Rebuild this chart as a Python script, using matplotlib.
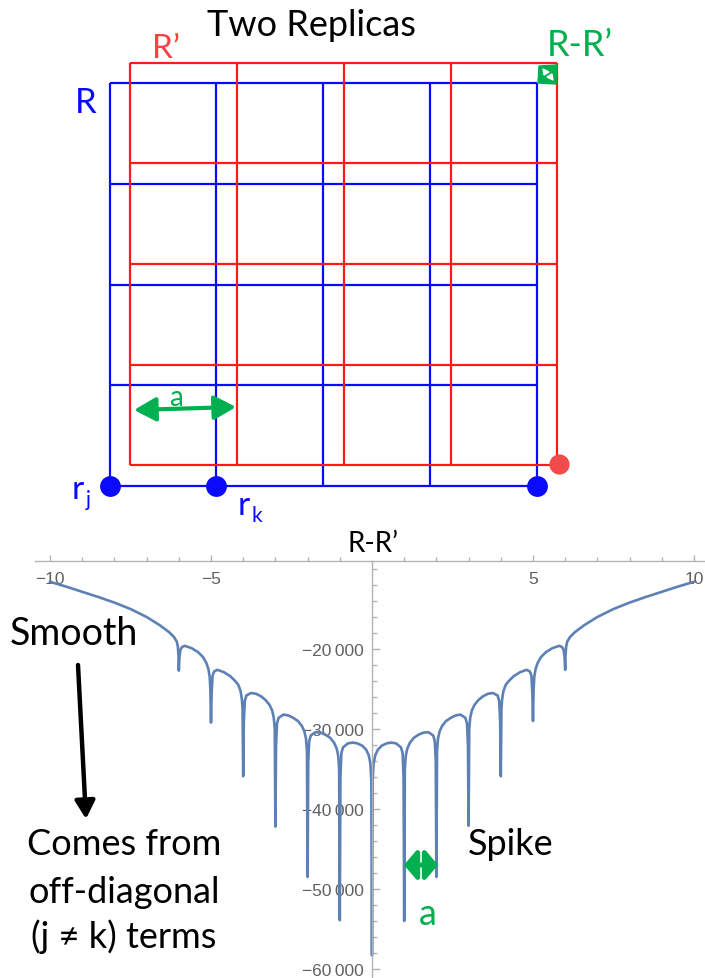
import matplotlib

matplotlib.use('Agg')

import matplotlib.pyplot as plt
from matplotlib.ticker import FixedLocator, MultipleLocator, FuncFormatter

# curve: x = R-R', y = energy
curve_x = [-10.0, -9.5, -9.0, -8.5, -8.0, -7.5, -7.0, -6.6, -6.3, -6.15, -6.06, -6.03, -6.01, -6.0,
           -5.98, -5.95, -5.9, -5.82, -5.6, -5.4, -5.25, -5.15, -5.08, -5.04, -5.02, -5.0,
           -4.98, -4.95, -4.9, -4.8, -4.6, -4.4, -4.25, -4.15, -4.08, -4.04, -4.02, -4.0,
           -3.98, -3.95, -3.9, -3.75, -3.6, -3.45, -3.3, -3.18, -3.1, -3.05, -3.02, -3.0,
           -2.98, -2.95, -2.9, -2.75, -2.6, -2.45, -2.3, -2.18, -2.1, -2.05, -2.02, -2.0,
           -1.98, -1.95, -1.9, -1.75, -1.6, -1.45, -1.3, -1.18, -1.1, -1.05, -1.02, -1.0,
           -0.98, -0.95, -0.9, -0.75, -0.6, -0.45, -0.3, -0.18, -0.1, -0.05, -0.02, 0.0,
           0.02, 0.05, 0.1, 0.18, 0.3, 0.45, 0.6, 0.75, 0.9, 0.95, 0.98, 1.0,
           1.02, 1.05, 1.1, 1.18, 1.3, 1.45, 1.6, 1.75, 1.9, 1.95, 1.98, 2.0,
           2.02, 2.05, 2.1, 2.18, 2.3, 2.45, 2.6, 2.75, 2.9, 2.95, 2.98, 3.0,
           3.02, 3.05, 3.1, 3.18, 3.3, 3.45, 3.6, 3.75, 3.9, 3.95, 3.98, 4.0,
           4.02, 4.04, 4.08, 4.15, 4.25, 4.4, 4.6, 4.8, 4.9, 4.95, 4.98, 5.0,
           5.02, 5.04, 5.08, 5.15, 5.25, 5.4, 5.6, 5.82, 5.9, 5.95, 5.98, 6.0,
           6.01, 6.03, 6.06, 6.15, 6.3, 6.6, 7.0, 7.5, 8.0, 8.5, 9.0, 9.5, 10.0]
curve_y = [-11600, -12200, -12850, -13500, -14200, -15000, -16000, -17000, -17900, -18500, -19100, -19700, -20800, -22700,
           -21000, -20100, -19750, -19600, -19900, -20400, -21000, -21700, -22500, -23500, -25000, -29200,
           -25500, -23300, -22800, -22600, -22900, -23400, -24000, -24500, -25300, -26300, -27500, -35900,
           -29000, -26500, -25800, -25500, -25600, -25900, -26400, -27000, -27700, -28600, -30000, -42200,
           -32000, -29300, -28600, -28200, -28300, -28600, -29000, -29600, -30300, -31200, -32800, -48500,
           -34000, -31500, -30800, -30400, -30450, -30700, -31100, -31700, -32400, -33300, -35000, -53900,
           -36000, -33000, -32300, -31800, -31700, -31800, -32100, -32600, -33300, -34300, -36500, -58300,
           -36500, -34300, -33300, -32600, -32100, -31800, -31700, -31800, -32300, -33000, -36000, -54000,
           -35000, -33300, -32400, -31700, -31100, -30700, -30450, -30400, -30800, -31500, -34000, -48500,
           -32800, -31200, -30300, -29600, -29000, -28600, -28300, -28200, -28600, -29300, -32000, -42100,
           -30000, -28600, -27700, -27000, -26400, -25900, -25600, -25500, -25800, -26500, -29000, -35900,
           -27500, -26300, -25300, -24500, -24000, -23400, -22900, -22600, -22800, -23300, -25500, -29000,
           -25000, -23500, -22500, -21700, -21000, -20400, -19900, -19600, -19750, -20100, -21000, -22600,
           -20800, -19700, -19100, -18500, -17900, -17000, -16000, -15000, -14200, -13500, -12850, -12200, -11600]

x_major = [-10, -5, 5, 10]
x_minor = [-9, -8, -7, -6, -4, -3, -2, -1, 1, 2, 3, 4, 6, 7, 8, 9]
y_major = [-20000, -30000, -40000, -50000, -60000]

# the two lattices of the sketch (pixel coords of the picture)
blue_cols = [110, 216, 323, 430, 537]
blue_rows = [84, 185, 286, 386, 487]
red_cols = [130, 237, 344, 451, 557]
red_rows = [64, 164, 265, 366, 466]
blue_sites_x = [110, 216, 537]
blue_sites_y = [487, 487, 487]
red_site = (559, 465)

BLUE = '#0a0aff'
RED = '#ff1a1a'
GREEN = '#00b050'
LINE = '#5e81b5'
AXC = '#b3b3b3'
TXT = dict(family=['Lato', 'DejaVu Sans'])

plt.rcParams['font.family'] = ['Liberation Sans', 'DejaVu Sans']

fig = plt.figure(figsize=(7.05, 9.79), dpi=100)

# ---- Mathematica style plot ----
ax = fig.add_axes([35 / 705, 0, 670 / 705, 417 / 979])
ax.plot(curve_x, curve_y, color=LINE, lw=1.9, solid_joinstyle='round')
ax.set_xlim(-10.466, 10.342)
ax.set_ylim(-61125, -9000)
ax.patch.set_alpha(0)

for s in ['top', 'right']:
    ax.spines[s].set_visible(False)
ax.spines['bottom'].set_position(('axes', 1.0))
ax.spines['left'].set_position(('data', 0))
for s in ['bottom', 'left']:
    ax.spines[s].set_color(AXC)
    ax.spines[s].set_linewidth(1.0)

ax.xaxis.set_major_locator(FixedLocator(x_major))
ax.xaxis.set_minor_locator(FixedLocator(x_minor))
ax.xaxis.set_major_formatter(FuncFormatter(lambda v, p: ('\u2212' if v < 0 else '') + '%d' % abs(v)))
ax.yaxis.set_major_locator(FixedLocator(y_major))
ax.yaxis.set_minor_locator(MultipleLocator(2000))
ax.yaxis.set_major_formatter(FuncFormatter(lambda v, p: '\u2212%d\u2009000' % (abs(v) // 1000)))

ax.tick_params(which='both', direction='in', color=AXC, labelcolor='#606060', labelsize=12.5, width=1.0)
ax.tick_params(axis='x', which='major', length=4, pad=7)
ax.tick_params(axis='x', which='minor', length=3)
ax.tick_params(axis='y', which='major', length=6, pad=6)
ax.tick_params(axis='y', which='minor', length=3.5)

# ---- overlay for the sketch and annotations ----
ov = fig.add_axes([0, 0, 1, 1])
ov.set_xlim(0, 705)
ov.set_ylim(979, 0)
ov.axis('off')
ov.patch.set_alpha(0)

ov.vlines(blue_cols, blue_rows[0], blue_rows[-1], color=BLUE, lw=1.6)
ov.hlines(blue_rows, blue_cols[0], blue_cols[-1], color=BLUE, lw=1.6)
ov.vlines(red_cols, red_rows[0], red_rows[-1], color=RED, lw=1.6)
ov.hlines(red_rows, red_cols[0], red_cols[-1], color=RED, lw=1.6)
ov.scatter(blue_sites_x, blue_sites_y, s=225, color=BLUE, zorder=5, linewidths=0)
ov.scatter([red_site[0]], [red_site[1]], s=210, color='#f24b4b', zorder=5, linewidths=0)

ov.text(311, 36, 'Two Replicas', fontsize=26, ha='center', va='baseline', **TXT)
ov.text(166, 58, 'R\u2019', fontsize=24, color='#ff4040', ha='center', va='baseline', **TXT)
ov.text(580, 56, 'R-R\u2019', fontsize=26, color=GREEN, ha='center', va='baseline', **TXT)
ov.text(86, 113, 'R', fontsize=25, color=BLUE, ha='center', va='baseline', **TXT)
ov.text(176, 406, 'a', fontsize=20, color=GREEN, ha='center', va='baseline', **TXT)
ov.text(78, 499, 'r', fontsize=24, color=BLUE, ha='center', va='baseline', **TXT)
ov.text(88, 506, 'j', fontsize=15, color=BLUE, ha='center', va='baseline', **TXT)
ov.text(244, 515, 'r', fontsize=24, color=BLUE, ha='center', va='baseline', **TXT)
ov.text(257, 522, 'k', fontsize=15, color=BLUE, ha='center', va='baseline', **TXT)

# green R-R' marker: filled square with two small white heads inside
ov.fill([539, 557, 556, 538], [67, 66, 85, 84], color=GREEN, zorder=4)
ov.fill([543, 549, 544], [70, 73, 76], color='white', zorder=5)
ov.fill([553, 547, 552], [81, 78, 75], color='white', zorder=5)

ov.annotate('', xy=(236, 408), xytext=(134, 411),
            arrowprops=dict(arrowstyle='<|-|>,head_length=0.6,head_width=0.33', color=GREEN, lw=3,
                            mutation_scale=22, shrinkA=0, shrinkB=0))

ov.text(373, 552, 'R-R\u2019', fontsize=20, ha='center', va='baseline', **TXT)
ov.text(74, 645, 'Smooth', fontsize=27, ha='center', va='baseline', **TXT)
ov.annotate('', xy=(86, 820), xytext=(78, 666),
            arrowprops=dict(arrowstyle='-|>,head_length=0.9,head_width=0.5', color='black', lw=3.2,
                            mutation_scale=12, shrinkA=0, shrinkB=0))
ov.text(124, 855, 'Comes from', fontsize=26, ha='center', va='baseline', **TXT)
ov.text(124, 903, 'off-diagonal', fontsize=26, ha='center', va='baseline', **TXT)
ov.text(124, 948, '(j \u2260 k) terms', fontsize=26, ha='center', va='baseline', **TXT)
ov.text(511, 855, 'Spike', fontsize=26, ha='center', va='baseline', **TXT)
ov.annotate('', xy=(438, 866), xytext=(404, 866),
            arrowprops=dict(arrowstyle='<|-|>,head_length=0.38,head_width=0.45', color=GREEN, lw=3.5,
                            mutation_scale=20, shrinkA=0, shrinkB=0))
ov.text(428, 925, 'a', fontsize=26, color=GREEN, ha='center', va='baseline', **TXT)

fig.savefig('out.png', dpi=100)
